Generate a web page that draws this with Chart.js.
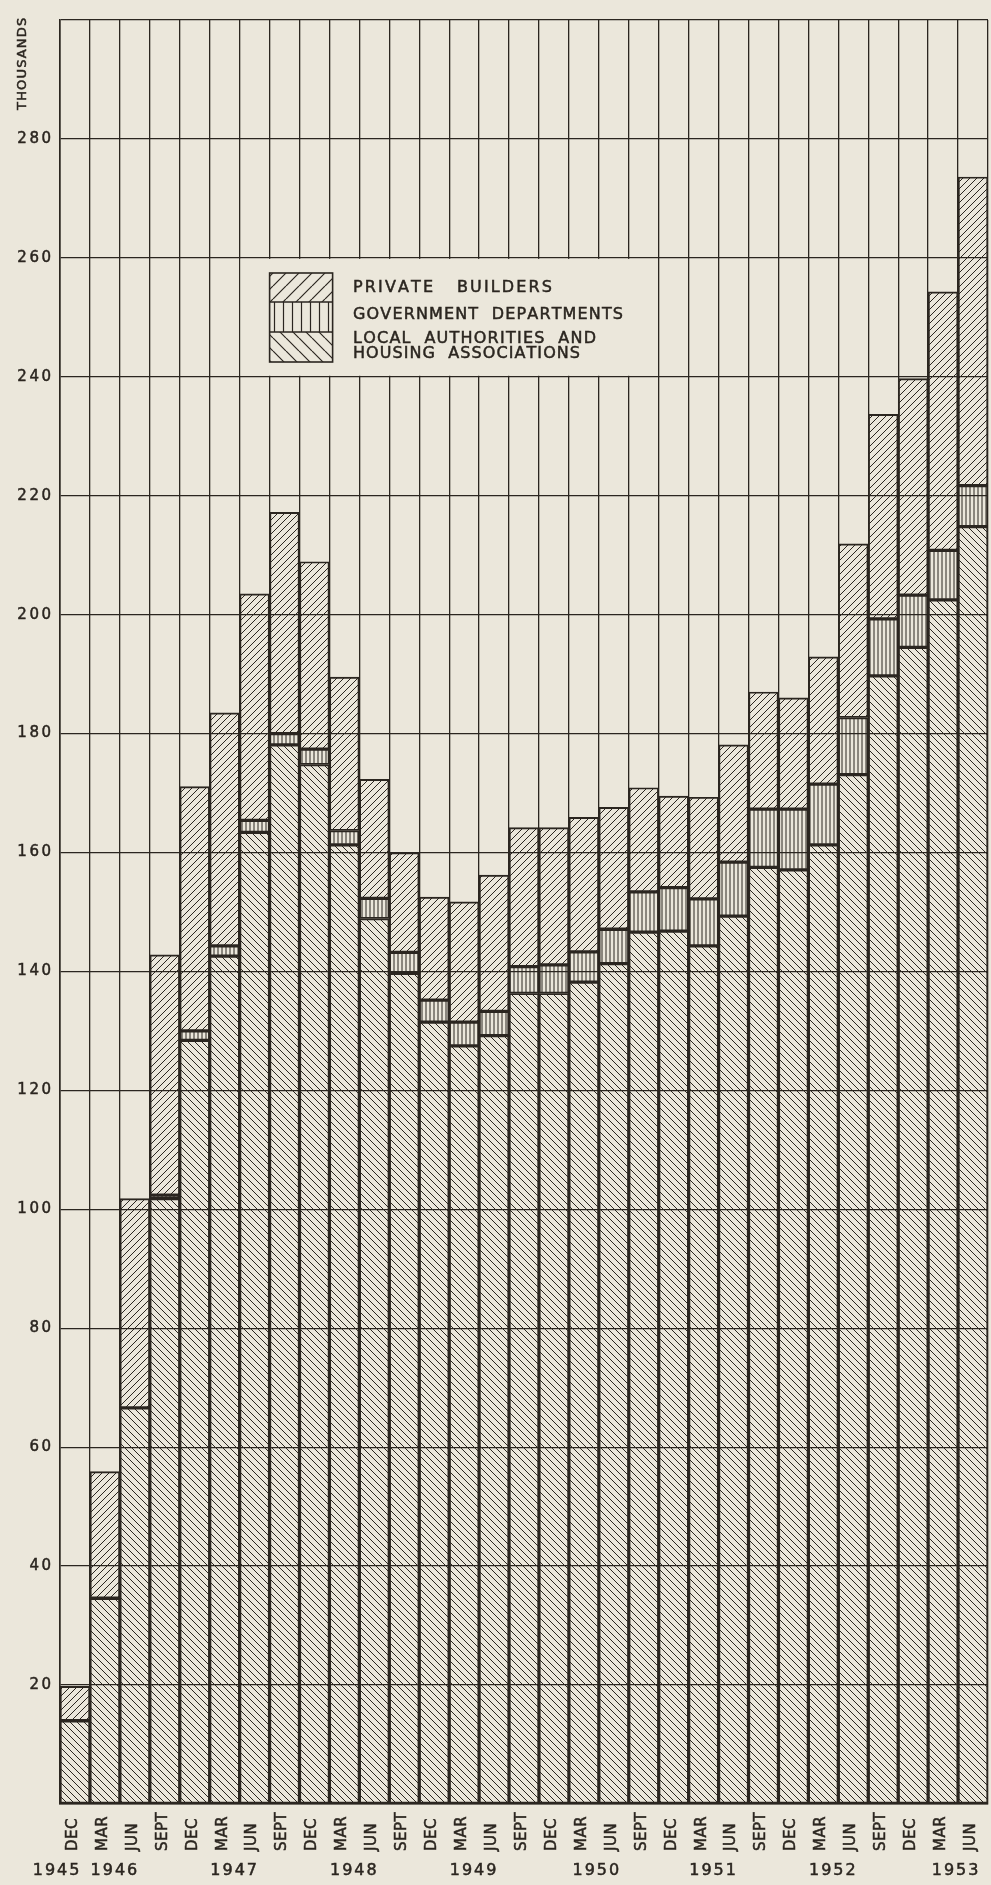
<!DOCTYPE html>
<html lang="en">
<head>
    <meta charset="UTF-8">
    <title>Houses under construction</title>
    <script src="https://cdn.jsdelivr.net/npm/chart.js"></script>
    <style>
        body {
            margin: 0;
            background: #ebe7db;
        }
        .wrap {
            width: 991px;
            height: 1885px;
            position: relative;
        }
    </style>
</head>
<body>
    <div class="wrap"><canvas id="houses"></canvas></div>

    <script>
        // quarters, Dec 1945 .. Jun 1953 (thousands of houses)
        const quarters = ['DEC', 'MAR', 'JUN', 'SEPT', 'DEC', 'MAR', 'JUN', 'SEPT', 'DEC', 'MAR', 'JUN', 'SEPT',
            'DEC', 'MAR', 'JUN', 'SEPT', 'DEC', 'MAR', 'JUN', 'SEPT', 'DEC', 'MAR', 'JUN', 'SEPT', 'DEC', 'MAR',
            'JUN', 'SEPT', 'DEC', 'MAR', 'JUN'];
        const years = ['1945', '1946', '1947', '1948', '1949', '1950', '1951', '1952', '1953'];
        // where each year label sits, in category units
        const yearAt = [-0.63, 1.3, 5.3, 9.3, 13.3, 17.4, 21.3, 25.3, 29.4];

        const localAuthorities = [14.0, 34.6, 66.6, 101.8, 128.4, 142.6, 163.4, 178.1, 174.8, 161.3, 148.9, 139.7,
            131.5, 127.5, 129.2, 136.3, 136.3, 138.2, 141.3, 146.6, 146.8, 144.3, 149.3, 157.5, 157.1, 161.3,
            173.1, 189.7, 194.5, 202.5, 214.8];
        const government = [0, 0, 0, 0.6, 1.6, 1.7, 2.0, 1.9, 2.6, 2.4, 3.4, 3.5, 3.7, 4.0, 4.1, 4.5, 4.8, 5.1,
            5.8, 6.8, 7.3, 7.9, 9.1, 9.8, 10.2, 10.2, 9.6, 9.6, 8.8, 8.3, 6.9];
        const privateBuilders = [5.8, 21.3, 35.2, 40.4, 41.1, 39.2, 38.1, 37.2, 31.5, 25.8, 20.0, 16.8, 17.3,
            20.2, 22.9, 23.4, 23.1, 22.6, 20.5, 17.5, 15.4, 17.1, 19.7, 19.7, 18.7, 21.4, 29.2, 34.4, 36.4,
            43.5, 51.9];
        const yTicks = [20, 40, 60, 80, 100, 120, 140, 160, 180, 200, 220, 240, 260, 280];

        const PAPER = '#ebe7db';
        const INK = '#2b2620';
        const FONT = '"DejaVu Sans", sans-serif';

        const canvas = document.getElementById('houses');
        const ctx = canvas.getContext('2d');

        // hatch fills: back = "\", fwd = "/", vert = "|"
        function hatch(kind, size, lw) {
            const c = document.createElement('canvas');
            c.width = size;
            c.height = size;
            const g = c.getContext('2d');
            g.strokeStyle = INK;
            g.lineWidth = lw;
            g.beginPath();
            if (kind === 'vert') {
                g.moveTo(size / 2, 0);
                g.lineTo(size / 2, size);
            } else {
                for (let k = -1; k <= 1; k++) {
                    if (kind === 'back') {
                        g.moveTo(k * size, 0);
                        g.lineTo(k * size + size, size);
                    } else {
                        g.moveTo(k * size, size);
                        g.lineTo(k * size + size, 0);
                    }
                }
            }
            g.stroke();
            return ctx.createPattern(c, 'repeat');
        }

        // text with extra spacing between letters (a thin stroke makes it look printed)
        function spaced(g, text, x, y, gap, align) {
            const chars = [...text];
            const widths = chars.map(ch => g.measureText(ch).width);
            const total = widths.reduce((a, b) => a + b, 0) + gap * (chars.length - 1);
            let cx = align === 'right' ? x - total : align === 'center' ? x - total / 2 : x;
            g.textAlign = 'left';
            g.strokeStyle = INK;
            g.lineWidth = 0.5;
            chars.forEach((ch, i) => {
                g.fillText(ch, cx, y);
                g.strokeText(ch, cx, y);
                cx += widths[i] + gap;
            });
        }

        // same, stretched to a given width
        function fitted(g, text, x, y, width) {
            const chars = [...text];
            const raw = chars.reduce((a, ch) => a + g.measureText(ch).width, 0);
            spaced(g, text, x, y, (width - raw) / (chars.length - 1), 'left');
        }

        const paper = {
            id: 'paper',
            beforeDraw(chart) {
                const g = chart.ctx;
                g.save();
                g.fillStyle = PAPER;
                g.fillRect(0, 0, chart.width, chart.height);
                g.restore();
            }
        };

        const annotations = {
            id: 'annotations',
            afterDraw(chart) {
                const g = chart.ctx;
                const xs = chart.scales.x;
                const ys = chart.scales.y;
                g.save();
                g.fillStyle = INK;
                g.textBaseline = 'middle';

                // y tick labels
                g.font = '15px ' + FONT;
                yTicks.forEach(v => spaced(g, String(v), 51, ys.getPixelForValue(v), 2.5, 'right'));

                // unit, rotated
                g.save();
                g.font = '13px ' + FONT;
                g.translate(23, 110);
                g.rotate(-Math.PI / 2);
                spaced(g, 'THOUSANDS', 0, 0, 1.2, 'left');
                g.restore();

                // quarter labels, rotated
                g.font = '15px ' + FONT;
                quarters.forEach((q, i) => {
                    g.save();
                    g.translate(xs.getPixelForValue(i) - 2, 1851);
                    g.rotate(-Math.PI / 2);
                    spaced(g, q, 0, 0, 0.5, 'left');
                    g.restore();
                });

                // years
                g.font = '16px ' + FONT;
                years.forEach((yr, i) => spaced(g, yr, xs.getPixelForValue(yearAt[i]), 1871, 2, 'center'));

                // legend panel between the 260 and 240 lines
                const half = (xs.getPixelForValue(1) - xs.getPixelForValue(0)) / 2;
                const left = xs.getPixelForValue(6) - half;
                const right = xs.getPixelForValue(20) - half;
                const top = ys.getPixelForValue(260);
                const bottom = ys.getPixelForValue(240);
                g.fillStyle = PAPER;
                g.fillRect(left + 1, top + 1, right - left - 2, bottom - top - 2);

                const sx = left + 30, sw = 63;
                const rows = [[273, 302, hatch('fwd', 13, 1.2)], [302, 332, hatch('vert', 9, 1.2)],
                    [332, 362, hatch('back', 13, 1.2)]];
                rows.forEach(([y0, y1, pat]) => {
                    g.fillStyle = pat;
                    g.fillRect(sx, y0, sw, y1 - y0);
                });
                g.strokeStyle = INK;
                g.lineWidth = 1.6;
                g.strokeRect(sx, 273, sw, 89);
                g.beginPath();
                g.moveTo(sx, 302); g.lineTo(sx + sw, 302);
                g.moveTo(sx, 332); g.lineTo(sx + sw, 332);
                g.stroke();

                g.fillStyle = INK;
                g.font = '16px ' + FONT;
                fitted(g, 'PRIVATE   BUILDERS', 353, 288, 199);
                fitted(g, 'GOVERNMENT  DEPARTMENTS', 353, 315, 270);
                fitted(g, 'LOCAL  AUTHORITIES  AND', 353, 339, 243);
                fitted(g, 'HOUSING  ASSOCIATIONS', 353, 354, 227);
                g.restore();
            }
        };

        const barStyle = {
            borderColor: INK,
            borderWidth: 1.3,
            borderSkipped: false,
            barPercentage: 1,
            categoryPercentage: 1
        };

        new Chart(ctx, {
            type: 'bar',
            data: {
                labels: quarters.map((q, i) => q + ' ' + i),
                datasets: [
                    Object.assign({ label: 'Local authorities and housing associations', data: localAuthorities,
                        backgroundColor: hatch('back', 7, 1) }, barStyle),
                    Object.assign({ label: 'Government departments', data: government,
                        backgroundColor: hatch('vert', 4, 1) }, barStyle),
                    Object.assign({ label: 'Private builders', data: privateBuilders,
                        backgroundColor: hatch('fwd', 7, 1) }, barStyle)
                ]
            },
            options: {
                responsive: true,
                maintainAspectRatio: false,
                animation: false,
                layout: {
                    padding: { left: 60, top: 20, right: 3, bottom: 81 }
                },
                plugins: {
                    legend: { display: false },
                    tooltip: { enabled: false }
                },
                scales: {
                    x: {
                        stacked: true,
                        ticks: { display: false },
                        grid: { offset: true, color: INK, lineWidth: 1.3, drawTicks: false },
                        border: { color: INK, width: 1.6 }
                    },
                    y: {
                        stacked: true,
                        min: 0,
                        max: 300,
                        ticks: { display: false, stepSize: 20 },
                        grid: { color: INK, lineWidth: 1.3, drawTicks: false },
                        border: { color: INK, width: 1.6 }
                    }
                }
            },
            plugins: [paper, annotations]
        });
    </script>
</body>
</html>
